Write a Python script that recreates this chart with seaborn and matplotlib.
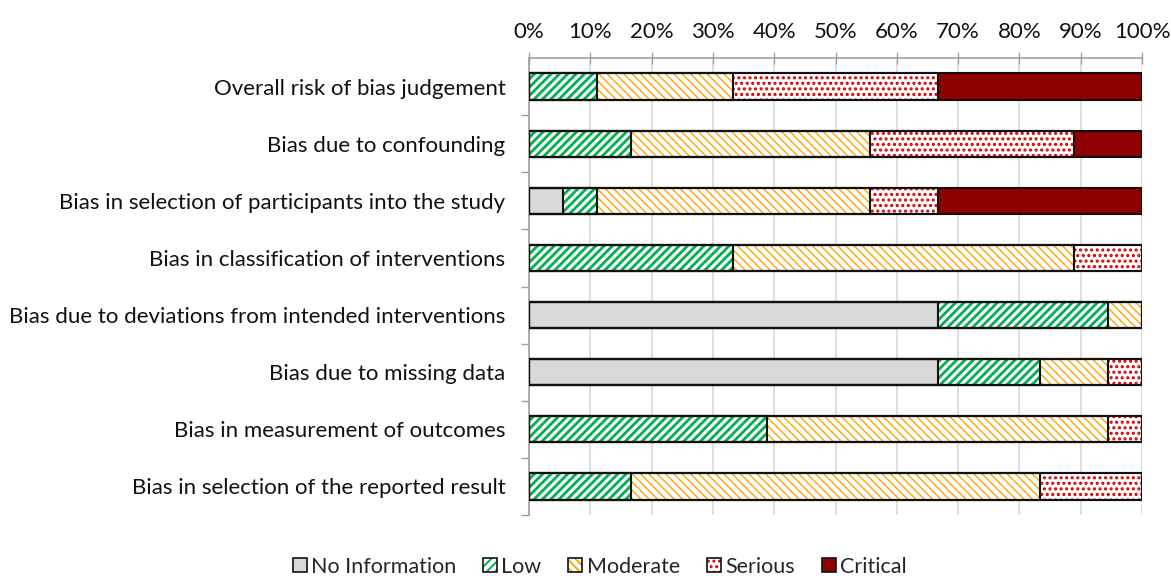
import numpy as np
import pandas as pd
import matplotlib
matplotlib.use("Agg")
import matplotlib.pyplot as plt
from matplotlib.patches import Patch
from matplotlib.ticker import PercentFormatter
import seaborn as sns

# --- DATA (share of studies, 18 studies per domain) ---
domains = [
    "Overall risk of bias judgement",
    "Bias due to confounding",
    "Bias in selection of participants into the study",
    "Bias in classification of interventions",
    "Bias due to deviations from intended interventions",
    "Bias due to missing data",
    "Bias in measurement of outcomes",
    "Bias in selection of the reported result",
]
levels = ["No Information", "Low", "Moderate", "Serious", "Critical"]
n_studies = 18
no_info  = [0, 0, 1, 0, 12, 12, 0, 0]
low      = [2, 3, 1, 6, 5, 3, 7, 3]
moderate = [4, 7, 8, 10, 1, 2, 10, 12]
serious  = [6, 6, 2, 2, 0, 1, 1, 3]
critical = [6, 2, 6, 0, 0, 0, 0, 0]

# --- STYLE per level: (face, hatch, hatch colour, hatch width) ---
styles = {
    "No Information": ("#d9d9d9", None, "#d9d9d9", 1.0),
    "Low":            ("white", "////", "#00b050", 2.0),
    "Moderate":       ("white", "\\\\\\\\", "#ffa500", 1.0),
    "Serious":        ("white", "...", "#d40000", 1.5),
    "Critical":       ("#8f0000", None, "#8f0000", 1.0),
}

sns.set_theme(style="white")
plt.rcParams["font.family"] = ["Lato", "DejaVu Sans"]
plt.rcParams["hatch.linewidth"] = 1.4

df = pd.DataFrame({"domain": domains, "No Information": no_info, "Low": low,
                   "Moderate": moderate, "Serious": serious, "Critical": critical})
pct = df[levels].div(n_studies) * 100
cum = pct.cumsum(axis=1)
cum["domain"] = df["domain"]

fig = plt.figure(figsize=(11.71, 5.76), dpi=100)
ax = fig.add_axes([0.4518, 0.1059, 0.5234, 0.7934])


def set_hatch_width(patches, lw):
    for p in patches:
        if hasattr(p, "set_hatch_linewidth"):
            p.set_hatch_linewidth(lw)
        else:
            p._hatch_linewidth = lw


# draw cumulative bars from the outermost level inwards so each segment sits on top
for lvl in reversed(levels):
    face, hatch, hcol, hlw = styles[lvl]
    n0 = len(ax.patches)
    sns.barplot(data=cum, x=lvl, y="domain", orient="h", ax=ax, color=face,
                saturation=1, errorbar=None, width=0.46, hatch=hatch,
                edgecolor=hcol, linewidth=0, zorder=2)
    set_hatch_width(ax.patches[n0:], hlw)
    sns.barplot(data=cum, x=lvl, y="domain", orient="h", ax=ax, fill=False,
                errorbar=None, width=0.46, edgecolor="#111111", linewidth=1.5,
                zorder=3)

ax.set_xlim(0, 100)
ax.set_ylim(len(domains) - 0.5, -0.5)
ax.set_xlabel("")
ax.set_ylabel("")
ax.xaxis.set_major_formatter(PercentFormatter(decimals=0))
ax.set_xticks(np.arange(0, 101, 10))
ax.xaxis.tick_top()
ax.tick_params(axis="x", which="major", direction="inout", length=9, color="#a0a0a0",
               width=1, labelsize=16, labelcolor="#111111", pad=7)
ax.tick_params(axis="y", which="major", length=0, labelsize=16, labelcolor="#111111", pad=17)
ax.set_yticks(np.arange(len(domains)) + 0.5, minor=True)
ax.tick_params(axis="y", which="minor", direction="out", length=6, color="#a0a0a0", width=1, left=True)
ax.xaxis.grid(True, color="#d9d9d9", linewidth=1.2, zorder=0)
ax.set_axisbelow(True)
for side in ["right", "bottom"]:
    ax.spines[side].set_visible(False)
for side in ["top", "left"]:
    ax.spines[side].set_color("#a0a0a0")
    ax.spines[side].set_linewidth(1.2)

# legend with hatched swatches and black outline
handles = []
for lvl in levels:
    face, hatch, hcol, hlw = styles[lvl]
    sw = Patch(facecolor=face, hatch=hatch, edgecolor=hcol, linewidth=0)
    set_hatch_width([sw], hlw)
    handles.append((sw, Patch(facecolor="none", edgecolor="#111111", linewidth=1.2)))
fig.legend(handles, levels, loc="lower center", bbox_to_anchor=(0.512, -0.035), ncol=5,
           frameon=False, fontsize=15.5, handlelength=0.65, handleheight=0.65,
           handletextpad=0.2, columnspacing=1.25)

fig.savefig("out.png", dpi=100)
